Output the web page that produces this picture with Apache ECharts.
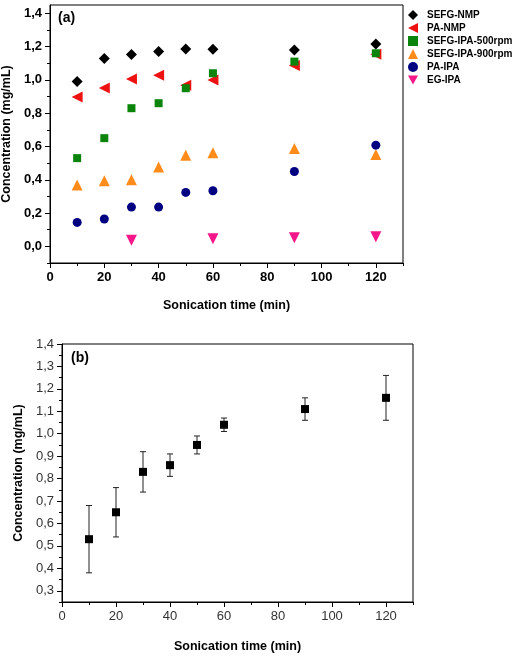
<!DOCTYPE html>
<html>
<head>
<meta charset="utf-8">
<script src="https://cdn.jsdelivr.net/npm/echarts@6/dist/echarts.min.js"></script>
<style>
  html, body { margin: 0; padding: 0; background: #fff; }
  #chart { width: 518px; height: 657px; }
</style>
</head>
<body>
<div id="chart"></div>
<script>
// sonication times (min)
const times = [10, 20, 30, 40, 50, 60, 90, 120];
const egTimes = [30, 60, 90, 120];

// panel (a) series
const sefgNmp = [0.99, 1.128, 1.152, 1.17, 1.186, 1.184, 1.18, 1.216];
const paNmp = [0.898, 0.952, 1.006, 1.028, 0.968, 1.0, 1.086, 1.154];
const sefgIpa500 = [0.53, 0.65, 0.83, 0.86, 0.95, 1.04, 1.11, 1.16];
const sefgIpa900 = [0.368, 0.394, 0.40, 0.476, 0.548, 0.562, 0.588, 0.552];
const paIpa = [0.144, 0.164, 0.236, 0.236, 0.324, 0.334, 0.45, 0.608];
const egIpa = [0.036, 0.046, 0.052, 0.058];

// panel (b) error bars for SEFG-IPA-500rpm
const errLow = [0.38, 0.54, 0.74, 0.81, 0.91, 1.01, 1.06, 1.06];
const errHigh = [0.68, 0.76, 0.92, 0.91, 0.99, 1.07, 1.16, 1.26];

// tick labels
const xTicks = [0, 20, 40, 60, 80, 100, 120];
const xMinor = [10, 30, 50, 70, 90, 110, 130];
const yTicksA = [0, 0.2, 0.4, 0.6, 0.8, 1.0, 1.2, 1.4];
const yMinorA = [-0.1, 0.1, 0.3, 0.5, 0.7, 0.9, 1.1, 1.3];
const yTicksB = [0.3, 0.4, 0.5, 0.6, 0.7, 0.8, 0.9, 1.0, 1.1, 1.2, 1.3, 1.4];
const yMinorB = [0.25, 0.35, 0.45, 0.55, 0.65, 0.75, 0.85, 0.95, 1.05, 1.15, 1.25, 1.35];

const pairs = (xs, ys) => xs.map((x, i) => [x, ys[i]]);
const comma = v => v.toFixed(1).replace('.', ',');
const FONT = 'Liberation Sans, Arial, sans-serif';

// left- and down-pointing triangles for the legend
const LEFT_TRI = 'path://M10,0 L0,5 L10,10 Z';
const DOWN_TRI = 'path://M0,0 L10,0 L5,9 Z';

const chart = echarts.init(document.getElementById('chart'));

const majorAxis = (gridIndex, pos, min, max, ticks, bold, fmt, extra) => Object.assign({
  type: 'value', gridIndex, position: pos, offset: 0, min, max,
  splitLine: { show: false },
  axisLine: { show: true, onZero: false, lineStyle: { color: '#000', width: 1 } },
  axisTick: { show: true, length: 5, customValues: ticks, lineStyle: { color: '#000' } },
  axisLabel: {
    customValues: ticks, formatter: fmt,
    color: bold ? '#000' : '#333', fontWeight: bold ? 'bold' : 'normal',
    fontSize: 13, fontFamily: FONT
  },
  nameTextStyle: { color: '#000', fontWeight: 'bold', fontSize: 12.5, fontFamily: FONT }
}, extra);

const minorAxis = (gridIndex, pos, min, max, ticks) => ({
  type: 'value', gridIndex, position: pos, offset: 0, min, max,
  splitLine: { show: false },
  axisLine: { show: false, onZero: false },
  axisTick: { show: true, length: 3, customValues: ticks, lineStyle: { color: '#000' } },
  axisLabel: { show: false }
});

chart.setOption({
  animation: false,
  grid: [
    { left: 50, top: 5, width: 353, height: 258, show: true, borderColor: '#000', borderWidth: 1,
      outerBoundsMode: 'none', containLabel: false },
    { left: 62, top: 344, width: 351, height: 258, show: true, borderColor: '#000', borderWidth: 1,
      outerBoundsMode: 'none', containLabel: false }
  ],
  xAxis: [
    majorAxis(0, 'bottom', 0, 130, xTicks, true, v => String(v),
      { name: 'Sonication time (min)', nameLocation: 'middle', nameGap: 36 }),
    minorAxis(0, 'bottom', 0, 130, xMinor),
    majorAxis(1, 'bottom', 0, 130, xTicks, false, v => String(v),
      { name: 'Sonication time (min)', nameLocation: 'middle', nameGap: 38 }),
    minorAxis(1, 'bottom', 0, 130, xMinor)
  ],
  yAxis: [
    majorAxis(0, 'left', -0.1, 1.45, yTicksA, true, comma,
      { name: 'Concentration (mg/mL)', nameLocation: 'middle', nameGap: 36 }),
    minorAxis(0, 'left', -0.1, 1.45, yMinorA),
    majorAxis(1, 'left', 0.25, 1.4, yTicksB, false, comma,
      { name: 'Concentration (mg/mL)', nameLocation: 'middle', nameGap: 37 }),
    minorAxis(1, 'left', 0.25, 1.4, yMinorB)
  ],
  legend: {
    orient: 'vertical', left: 408, top: 10, padding: 0,
    itemWidth: 10, itemHeight: 10, itemGap: 3,
    textStyle: { fontWeight: 'bold', fontSize: 10, fontFamily: FONT, color: '#000', padding: [0, 0, 0, 4] },
    data: [
      { name: 'SEFG-NMP', icon: 'diamond' },
      { name: 'PA-NMP', icon: LEFT_TRI },
      { name: 'SEFG-IPA-500rpm', icon: 'rect' },
      { name: 'SEFG-IPA-900rpm', icon: 'triangle' },
      { name: 'PA-IPA', icon: 'circle' },
      { name: 'EG-IPA', icon: DOWN_TRI }
    ]
  },
  graphic: [
    { type: 'text', left: 58, top: 11, style: { text: '(a)', font: 'bold 14px ' + FONT, fill: '#000' } },
    { type: 'text', left: 71, top: 351, style: { text: '(b)', font: 'bold 14px ' + FONT, fill: '#000' } }
  ],
  series: [
    { name: 'SEFG-NMP', type: 'scatter', xAxisIndex: 0, yAxisIndex: 0, symbol: 'diamond', symbolSize: 11,
      itemStyle: { color: '#000000', opacity: 1 }, data: pairs(times, sefgNmp) },
    { name: 'PA-NMP', type: 'scatter', xAxisIndex: 0, yAxisIndex: 0, symbol: 'triangle', symbolRotate: 90, symbolSize: 11,
      itemStyle: { color: '#ee1111', opacity: 1 }, data: pairs(times, paNmp) },
    { name: 'SEFG-IPA-500rpm', type: 'scatter', xAxisIndex: 0, yAxisIndex: 0, symbol: 'rect', symbolSize: 8,
      itemStyle: { color: '#0b840b', opacity: 1 }, data: pairs(times, sefgIpa500) },
    { name: 'SEFG-IPA-900rpm', type: 'scatter', xAxisIndex: 0, yAxisIndex: 0, symbol: 'triangle', symbolSize: 11,
      itemStyle: { color: '#ff8c1a', opacity: 1 }, data: pairs(times, sefgIpa900) },
    { name: 'PA-IPA', type: 'scatter', xAxisIndex: 0, yAxisIndex: 0, symbol: 'circle', symbolSize: 9,
      itemStyle: { color: '#000080', opacity: 1 }, data: pairs(times, paIpa) },
    { name: 'EG-IPA', type: 'scatter', xAxisIndex: 0, yAxisIndex: 0, symbol: 'triangle', symbolRotate: 180, symbolSize: 11,
      itemStyle: { color: '#f5168a', opacity: 1 }, data: pairs(egTimes, egIpa) },
    {
      type: 'custom', xAxisIndex: 2, yAxisIndex: 2,
      data: times.map((t, i) => [t, errLow[i], errHigh[i]]),
      encode: { x: 0, y: [1, 2] },
      renderItem: (params, api) => {
        const x = api.value(0);
        const lo = api.coord([x, api.value(1)]);
        const hi = api.coord([x, api.value(2)]);
        const w = 3;
        const st = { stroke: '#222', lineWidth: 1 };
        return {
          type: 'group', children: [
            { type: 'line', shape: { x1: hi[0], y1: hi[1], x2: lo[0], y2: lo[1] }, style: st },
            { type: 'line', shape: { x1: hi[0] - w, y1: hi[1], x2: hi[0] + w, y2: hi[1] }, style: st },
            { type: 'line', shape: { x1: lo[0] - w, y1: lo[1], x2: lo[0] + w, y2: lo[1] }, style: st }
          ]
        };
      },
      z: 1
    },
    { type: 'scatter', xAxisIndex: 2, yAxisIndex: 2, symbol: 'rect', symbolSize: 8, z: 3,
      itemStyle: { color: '#000', opacity: 1 }, data: pairs(times, sefgIpa500) }
  ]
});
</script>
</body>
</html>
